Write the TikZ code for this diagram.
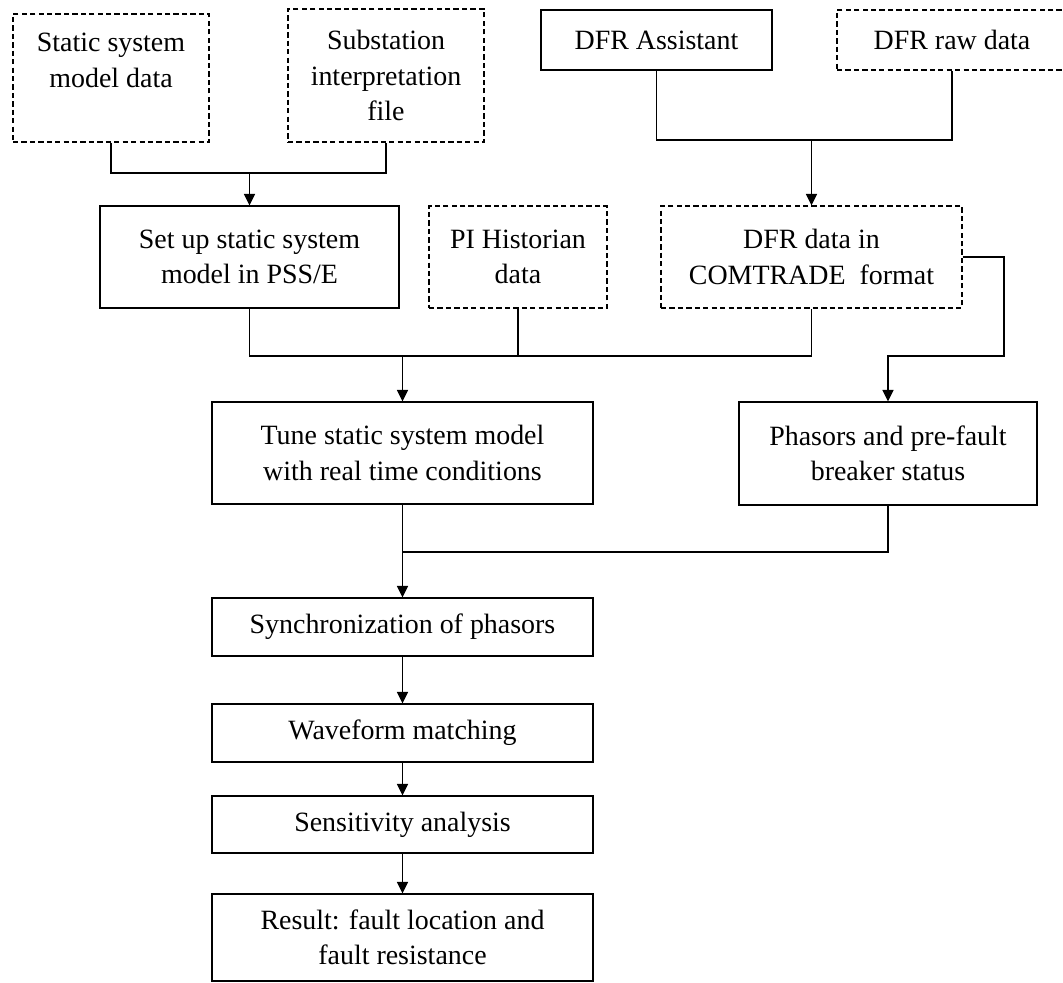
\documentclass[tikz,border=0pt]{standalone}
\usepackage{fontspec}
\setmainfont{Liberation Serif}
\usetikzlibrary{arrows.meta}

\begin{document}
\begin{tikzpicture}[x=0.02cm,y=-0.02cm,
  box/.style={draw,line width=0.8pt,align=center,inner sep=0pt,
    font=\fontsize{15.9}{20.2}\selectfont},
  dbox/.style={box,dash pattern=on 3pt off 1.8pt},
  arr/.style={-{Triangle[length=6.5pt,width=6.3pt]}},
  every path/.style={line width=0.8pt}]
  \useasboundingbox (0,0) rectangle (1063,983);
  \node[dbox,minimum width=3.92cm,minimum height=2.56cm] (static) at (111,78) {Static system\\model data\\~};
  \node[dbox,minimum width=3.92cm,minimum height=2.66cm] (subst) at (386,75.5) {Substation\\interpretation\\file};
  \node[box,minimum width=4.62cm,minimum height=1.2cm] (assist) at (656.5,40) {DFR Assistant};
  \node[dbox,minimum width=4.6cm,minimum height=1.2cm] (raw) at (952,40) {DFR raw data};
  \node[box,minimum width=5.98cm,minimum height=2.04cm] (setup) at (249.5,257) {Set up static system\\model in PSS/E};
  \node[dbox,minimum width=3.56cm,minimum height=2.04cm] (pi) at (518,257) {PI Historian\\data};
  \node[dbox,minimum width=6.02cm,minimum height=2.04cm] (comtrade) at (811.5,257) {DFR data in\\COMTRADE~~format};
  \node[box,minimum width=7.62cm,minimum height=2.04cm] (tune) at (402.5,453) {Tune static system model\\with real time conditions};
  \node[box,minimum width=5.96cm,minimum height=2.06cm] (phasor) at (888,453.5) {Phasors and pre-fault\\breaker status};
  \node[box,minimum width=7.62cm,minimum height=1.16cm] (sync) at (402.5,627) {Synchronization of phasors};
  \node[box,minimum width=7.62cm,minimum height=1.16cm] (wave) at (402.5,733) {Waveform matching};
  \node[box,minimum width=7.62cm,minimum height=1.14cm] (sens) at (402.5,824.5) {Sensitivity analysis};
  \node[box,minimum width=7.62cm,minimum height=1.74cm] (result) at (402.5,937.5) {Result: fault location and\\fault resistance};

  \coordinate (j1) at (249.5,173);
  \coordinate (j2) at (811.5,140);
  \coordinate (j3) at (402.5,356);
  \coordinate (j4) at (1004,356);
  \coordinate (j5) at (402.5,552);

  \draw (static.south) |- (j1) -| (subst.south);
  \draw[arr] (j1) -- (setup.north);
  \draw (assist.south) |- (j2) -| (raw.south);
  \draw[arr] (j2) -- (comtrade.north);
  \draw (setup.south) |- (j3) -| (comtrade.south);
  \draw (pi.south) -- (pi.south |- j3);
  \draw[arr] (j3) -- (tune.north);
  \draw[arr] (comtrade.east) -| (j4) -| (phasor.north);
  \draw (tune.south) -- (j5);
  \draw (phasor.south) |- (j5);
  \draw[arr] (j5) -- (sync.north);
  \draw[arr] (sync) -- (wave);
  \draw[arr] (wave) -- (sens);
  \draw[arr] (sens) -- (result);
\end{tikzpicture}
\end{document}
